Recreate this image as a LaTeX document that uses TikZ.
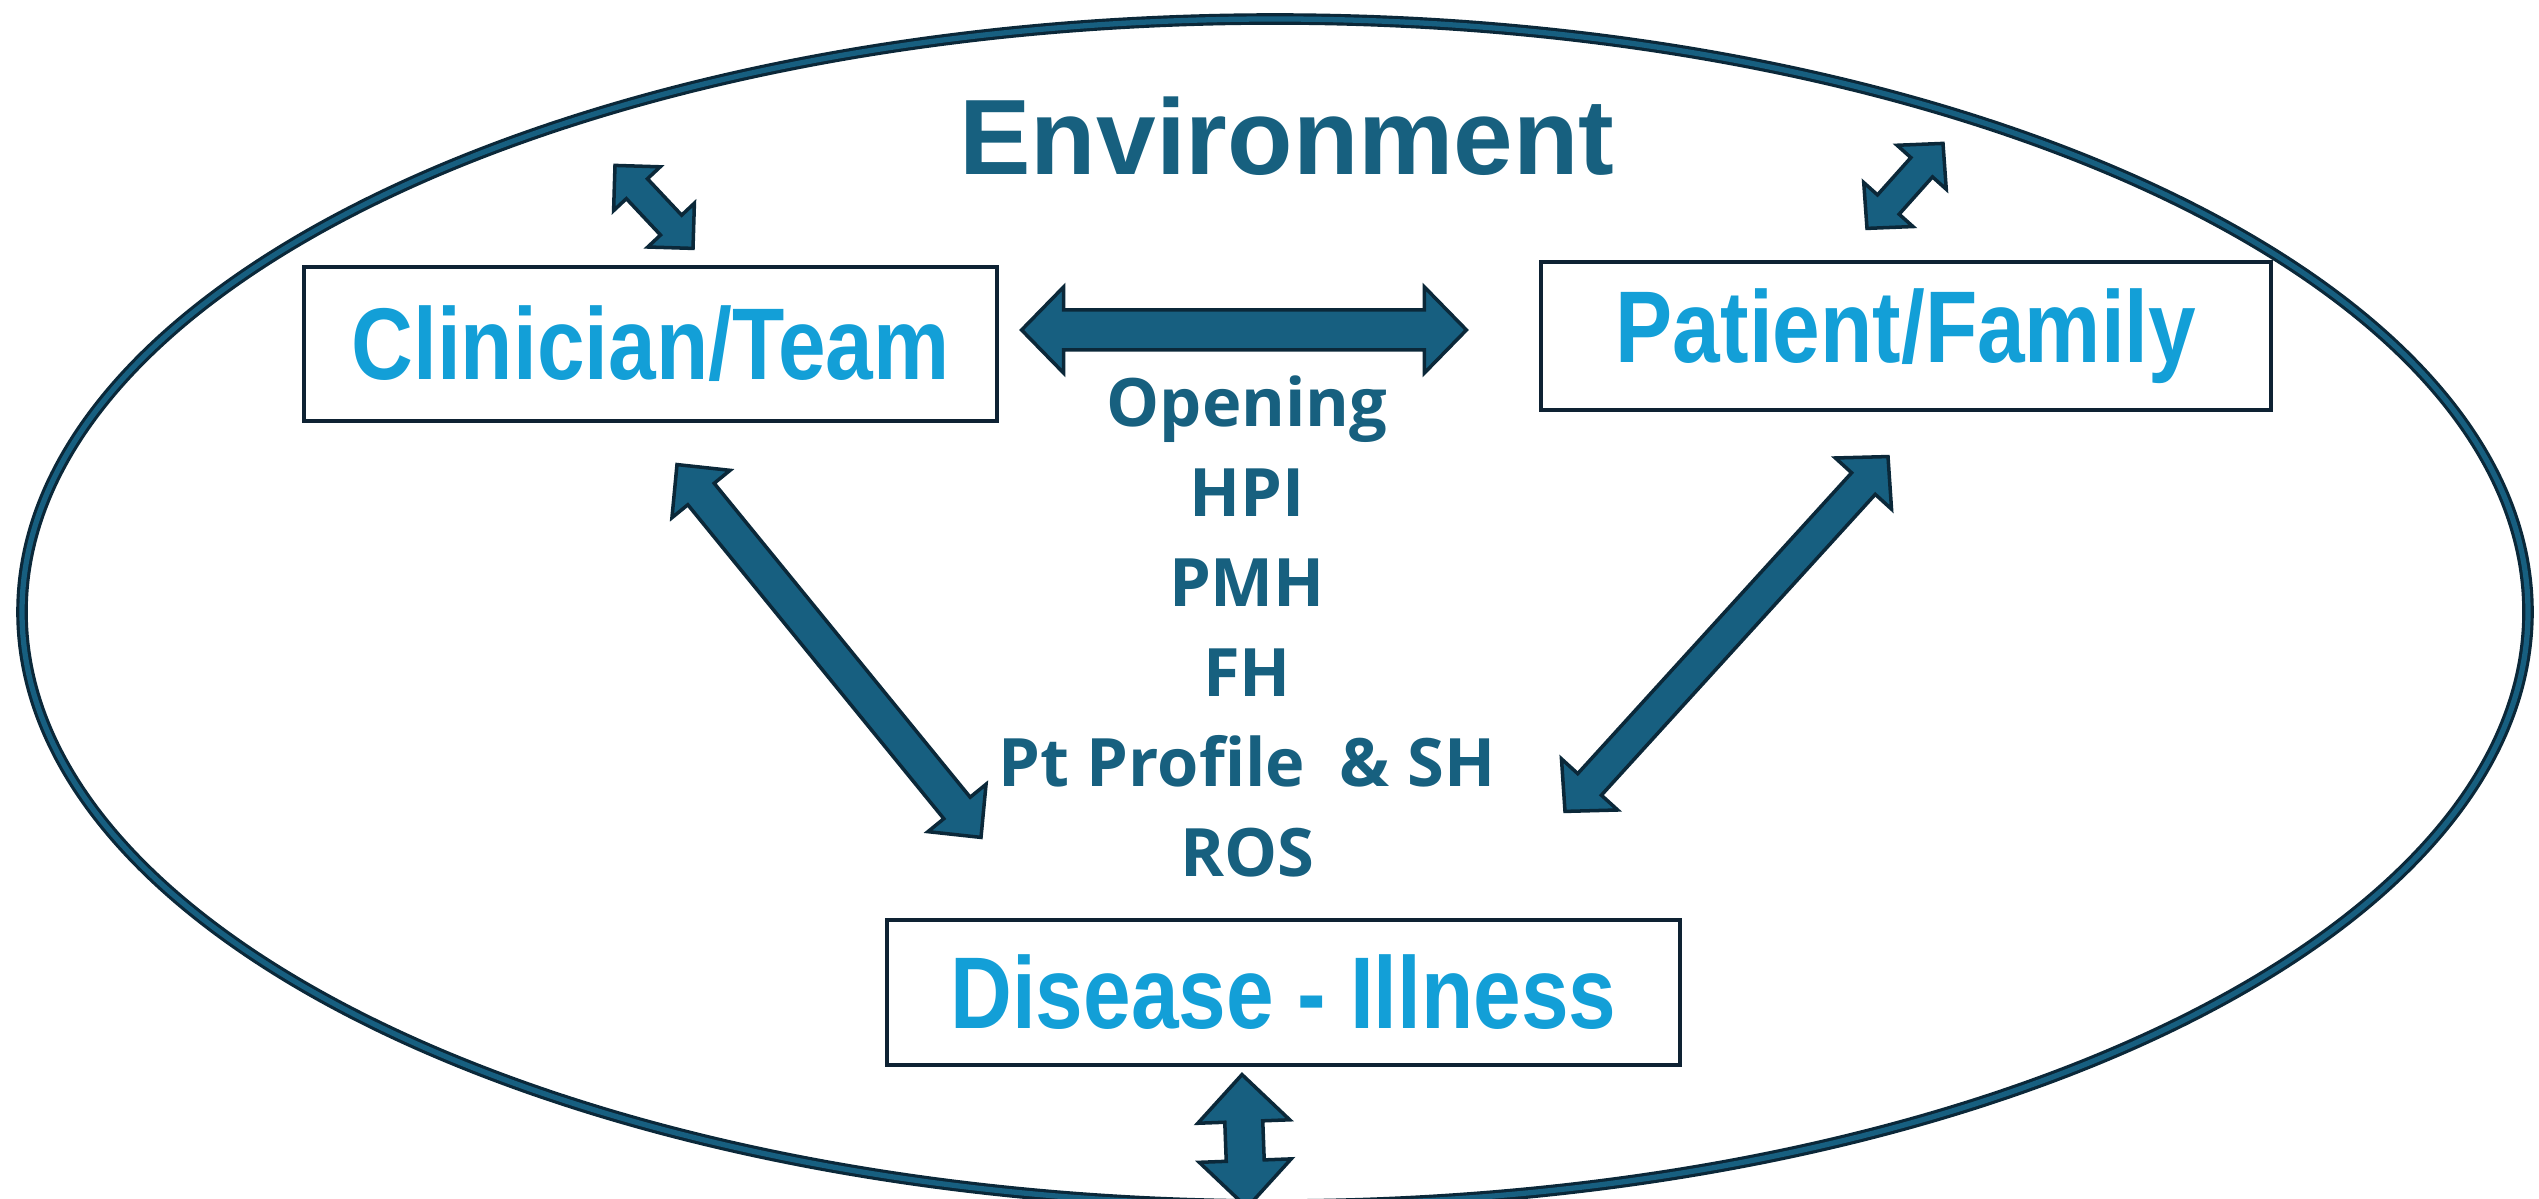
\documentclass[tikz,border=0pt]{standalone}
\usepackage{fontspec}
\setmainfont{Liberation Sans}
\newfontfamily\labelfont[FakeStretch=0.84]{Liberation Sans}
\newfontfamily\listfont{Open Sans}
\usetikzlibrary{calc}

\definecolor{arrowfill}{HTML}{175F80}
\definecolor{arrowline}{HTML}{0B2839}
\definecolor{boxline}{HTML}{0E2233}
\definecolor{labelblue}{HTML}{139FD7}
\definecolor{textteal}{HTML}{17607F}

\tikzstyle{entity} = [rectangle, draw=boxline, line width=0.9pt, inner sep=0pt, text=labelblue, font=\labelfont\bfseries\fontsize{29}{32}\selectfont]
\tikzstyle{listtext} = [inner sep=0pt, text=textteal, font=\listfont\bfseries\fontsize{19}{22}\selectfont]
\tikzstyle{envtext} = [inner sep=0pt, text=textteal, font=\bfseries\fontsize{30.5}{34}\selectfont]
\tikzstyle{envline} = [draw=arrowline, double=arrowfill, double distance=1.5pt, line width=0.9pt]
\tikzstyle{blockarrow} = [fill=arrowfill, draw=arrowline, line width=1pt]

% double block arrow: from, to, shaft half width, head half width, head length
\newcommand{\dblarrow}[5]{%
  \coordinate (ha) at ($(#1)!#5!(#2)$);
  \coordinate (hb) at ($(#2)!#5!(#1)$);
  \draw[blockarrow] (#1)
    -- ($(ha)!#4!90:(#2)$) -- ($(ha)!#3!90:(#2)$)
    -- ($(hb)!#3!-90:(#1)$) -- ($(hb)!#4!-90:(#1)$)
    -- (#2)
    -- ($(hb)!#4!90:(#1)$) -- ($(hb)!#3!90:(#1)$)
    -- ($(ha)!#3!-90:(#2)$) -- ($(ha)!#4!-90:(#2)$)
    -- cycle;
}

\begin{document}
\begin{tikzpicture}

        \useasboundingbox (0,0) rectangle (25.39,-11.99);

        %% environment
        \draw[envline] (12.75,-6.12) ellipse [x radius=12.53, y radius=5.93];
        \node (env) [envtext, anchor=base] at (12.87,-1.75) {Environment};

        %% entities
        \node (clin) [entity, minimum width=6.93cm, minimum height=1.54cm] at (6.505,-3.44) {Clinician/Team};
        \node (pat) [entity, minimum width=7.30cm, minimum height=1.48cm] at (19.06,-3.36) {Patient/Family};
        \node (dis) [entity, minimum width=7.93cm, minimum height=1.45cm] at (12.835,-9.925) {Disease - Illness};

        %% history items
        \foreach \entry [count=\i] in {Opening, HPI, PMH, FH, {Pt Profile \ \& SH}, ROS}
            \node (h\i) [listtext, anchor=base] at (12.47,{-4.27-0.9*(\i-1)}) {\entry};

        %% links
        \coordinate (a1) at ($(clin.east) + (0.23,0.14)$);
        \coordinate (a2) at ($(pat.west) + (-0.73,0.06)$);
        \dblarrow{a1}{a2}{0.20cm}{0.43cm}{0.42cm}

        \coordinate (b1) at ($(clin.south) + (0.265,-0.42)$);
        \coordinate (b2) at ($(dis.north) + (-3.025,0.81)$);
        \dblarrow{b1}{b2}{0.17cm}{0.375cm}{0.38cm}

        \coordinate (c1) at ($(pat.south) + (-0.18,-0.45)$);
        \coordinate (c2) at ($(dis.north) + (2.815,1.07)$);
        \dblarrow{c1}{c2}{0.16cm}{0.38cm}{0.365cm}

        %% links to environment
        \coordinate (d1) at ($(clin.north) + (-0.355,1.00)$);
        \coordinate (d2) at ($(clin.north) + (0.425,0.17)$);
        \dblarrow{d1}{d2}{0.145cm}{0.32cm}{0.32cm}

        \coordinate (e1) at ($(pat.north) + (0.37,1.17)$);
        \coordinate (e2) at ($(pat.north) + (-0.39,0.32)$);
        \dblarrow{e1}{e2}{0.145cm}{0.33cm}{0.32cm}

        \coordinate (f1) at ($(dis.south) + (-0.415,-0.08)$);
        \coordinate (f2) at ($(dis.south) + (-0.365,-1.41)$);
        \dblarrow{f1}{f2}{0.19cm}{0.46cm}{0.47cm}

    \end{tikzpicture}
\end{document}
